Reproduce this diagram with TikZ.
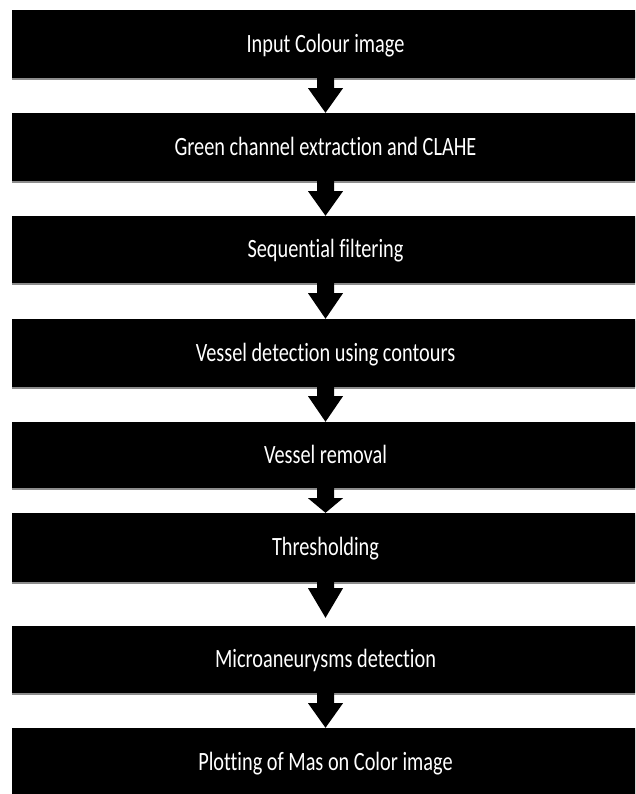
\documentclass[tikz,border=0pt]{standalone}
\usepackage{fontspec}
\setmainfont{Carlito}[Ligatures={NoCommon}]
\usepackage{graphicx}
\usetikzlibrary{calc,shadows}
\tikzset{
  stagebox/.style={fill=black, draw=none, minimum width=627pt, inner sep=0pt,
    text=white, text height=17pt, text depth=0pt,
    font=\fontsize{20.3}{24}\selectfont,
    drop shadow={shadow xshift=0pt, shadow yshift=-2pt, opacity=0.45, fill=black}},
  blockarrow/.style={fill=black, draw=none}
}
\newcommand{\stagetext}[1]{\scalebox{1}[1.3]{#1}}
% #1 from node, #2 to node, #3 shaft length, #4 gap between tip and target
\newcommand{\blkarrow}[4]{%
  \fill[blockarrow] ($(#1.south)+(-8.5,0)$) -- ($(#1.south)+(-8.5,-#3)$)
    -- ($(#1.south)+(-17.5,-#3)$) -- ($(#2.north)+(0,#4)$)
    -- ($(#1.south)+(17.5,-#3)$) -- ($(#1.south)+(8.5,-#3)$)
    -- ($(#1.south)+(8.5,0)$) -- cycle;}
\begin{document}
\begin{tikzpicture}[x=1pt,y=1pt]
\useasboundingbox (0,0) rectangle (635,794);
\clip (0,0) rectangle (635,794);
\fill[white] (0,0) rectangle (635,794);
\node[stagebox, minimum height=68pt] (b1) at (325.5,750) {\stagetext{Input Colour image}};
\node[stagebox, minimum height=68pt] (b2) at (325.5,647) {\stagetext{Green channel extraction and CLAHE}};
\node[stagebox, minimum height=67pt] (b3) at (325.5,544.5) {\stagetext{Sequential filtering}};
\node[stagebox, minimum height=68pt] (b4) at (325.5,441) {\stagetext{Vessel detection using contours}};
\node[stagebox, minimum height=66pt] (b5) at (325.5,339) {\stagetext{Vessel removal}};
\node[stagebox, minimum height=69pt] (b6) at (325.5,246.5) {\stagetext{Thresholding}};
\node[stagebox, minimum height=67pt] (b7) at (325.5,134.5) {\stagetext{Microaneurysms detection}};
\node[stagebox, minimum height=68pt] (b8) at (325.5,32) {\stagetext{Plotting of Mas on Color image}};
\blkarrow{b1}{b2}{10}{0}
\blkarrow{b2}{b3}{10}{0}
\blkarrow{b3}{b4}{10}{0}
\blkarrow{b4}{b5}{9}{0}
\blkarrow{b5}{b6}{10}{0}
\blkarrow{b6}{b7}{6}{8}
\blkarrow{b7}{b8}{10}{0}
\end{tikzpicture}
\end{document}
